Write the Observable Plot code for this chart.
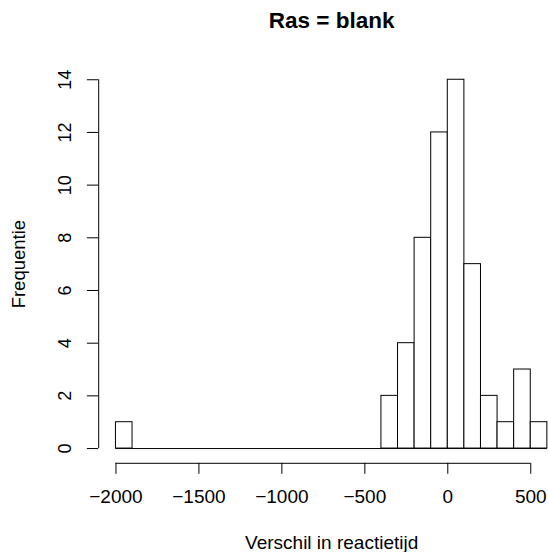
<!DOCTYPE html>
<html><head><meta charset="utf-8">
<script src="https://cdn.jsdelivr.net/npm/d3@7"></script>
<script src="https://cdn.jsdelivr.net/npm/@observablehq/plot@0.6"></script>
<style>body{margin:0;background:#fff;}</style>
</head><body><div id="chart"></div>
<script>
const binStarts = [-2000,-1900,-1800,-1700,-1600,-1500,-1400,-1300,-1200,-1100,-1000,-900,-800,-700,-600,-500,-400,-300,-200,-100,0,100,200,300,400,500];
const binEnds   = [-1900,-1800,-1700,-1600,-1500,-1400,-1300,-1200,-1100,-1000,-900,-800,-700,-600,-500,-400,-300,-200,-100,0,100,200,300,400,500,600];
const counts    = [1,0,0,0,0,0,0,0,0,0,0,0,0,0,0,0,2,4,8,12,14,7,2,1,3,1];
const xTicks = [-2000,-1500,-1000,-500,0,500];
const yTicks = [0,2,4,6,8,10,12,14];
const title = "Ras = blank";
const xLabel = "Verschil in reactietijd";
const yLabel = "Frequentie";

const xDomain = [-2104, 704];
const yDomain = [-0.56, 14.56];

const bins = binStarts.map((s, i) => ({x1: s, x2: binEnds[i], count: counts[i]}));
const fmt = d => d < 0 ? "\u2212" + Math.abs(d) : String(d);

const chart = Plot.plot({
  width: 548, height: 552,
  marginTop: 64.5, marginBottom: 89.2, marginLeft: 98.2, marginRight: -16.1,
  x: {domain: xDomain, range: [98.2, 564.1], axis: null},
  y: {domain: yDomain, range: [462.8, 64.5], axis: null},
  style: {fontFamily: "'Liberation Sans', Arial, Helvetica, sans-serif", background: "white", color: "black"},
  marks: [
    Plot.ruleY([0], {x1: binStarts[0], x2: binEnds[binEnds.length - 1], stroke: "black"}),
    Plot.rect(bins.filter(d => d.count > 0), {x1: d => d.x1, x2: d => d.x2, y1: 0, y2: d => d.count, fill: "white", stroke: "black", strokeWidth: 1}),
    Plot.ruleY([yDomain[0]], {x1: xTicks[0], x2: xTicks[xTicks.length - 1], stroke: "black"}),
    Plot.ruleX([xDomain[0]], {y1: yTicks[0], y2: yTicks[yTicks.length - 1], stroke: "black"}),
    Plot.axisX(xTicks, {tickSize: 11, fill: "none", stroke: "black", label: null}),
    Plot.axisY(yTicks, {tickSize: 11.3, fill: "none", stroke: "black", label: null}),
    Plot.text(xTicks, {x: d => d, text: fmt, frameAnchor: "bottom", dy: 33.7, fontSize: 19, lineAnchor: "middle"}),
    Plot.text(yTicks, {y: d => d, text: fmt, frameAnchor: "left", dx: -33.2, rotate: -90, fontSize: 18, textAnchor: "middle", lineAnchor: "middle"}),
    Plot.text([title], {frameAnchor: "top", dy: -44.3, fontSize: 22.5, fontWeight: "bold", lineAnchor: "middle"}),
    Plot.text([xLabel], {frameAnchor: "bottom", dy: 79.2, fontSize: 19, lineAnchor: "middle"}),
    Plot.text([yLabel], {frameAnchor: "left", dx: -79.2, rotate: -90, fontSize: 18.5, textAnchor: "middle", lineAnchor: "middle"})
  ]
});
document.getElementById("chart").appendChild(chart);
</script>
</body></html>
